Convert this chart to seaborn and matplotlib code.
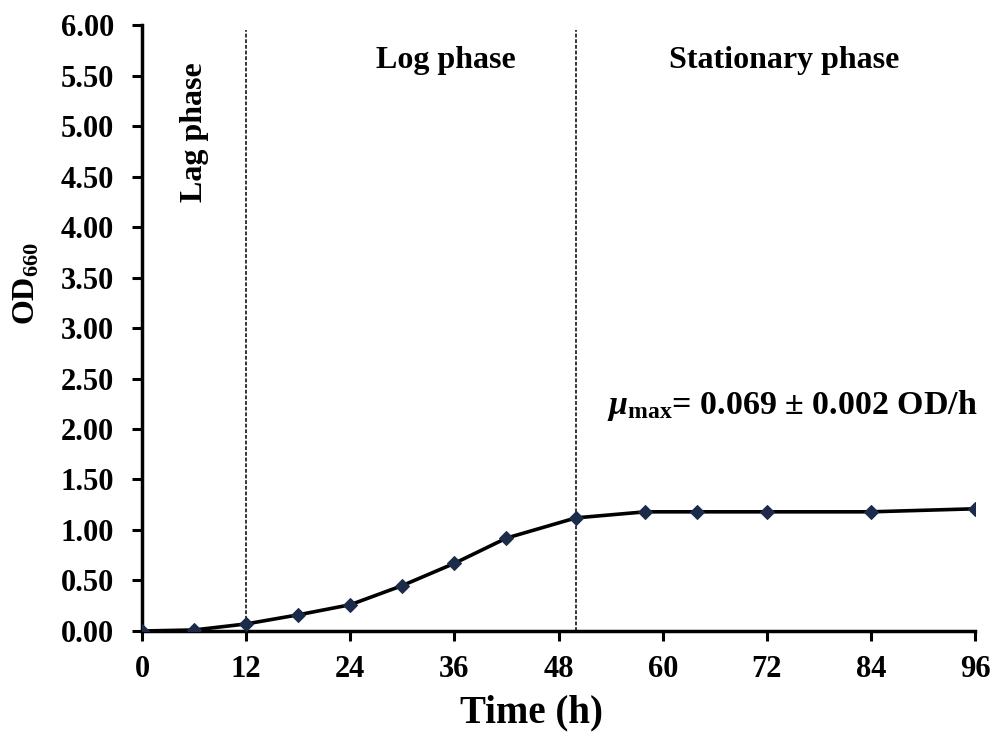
import matplotlib
matplotlib.use("Agg")
import matplotlib.pyplot as plt
import seaborn as sns
import pandas as pd
from matplotlib.ticker import FormatStrFormatter

# ---- data ----
time_h = [0, 6, 12, 18, 24, 30, 36, 42, 50, 58, 64, 72, 84, 96]
od660 = [0.00, 0.01, 0.07, 0.16, 0.26, 0.45, 0.67, 0.92, 1.12, 1.18, 1.18, 1.18, 1.18, 1.21]
phase_bounds = [12, 50]
x_ticks = [0, 12, 24, 36, 48, 60, 72, 84, 96]
y_ticks = [0.0, 0.5, 1.0, 1.5, 2.0, 2.5, 3.0, 3.5, 4.0, 4.5, 5.0, 5.5, 6.0]
phase_labels = ["Lag phase", "Log phase", "Stationary phase"]
mu_text = r"$\mathit{\mu}_{\mathrm{max}}$= 0.069 ± 0.002 OD/h"

sns.set_style("ticks")
plt.rcParams["font.family"] = ["Liberation Serif", "DejaVu Serif"]
plt.rcParams["font.weight"] = "bold"
plt.rcParams["text.color"] = "black"
plt.rcParams["axes.labelcolor"] = "black"
plt.rcParams["mathtext.fontset"] = "custom"
plt.rcParams["mathtext.rm"] = "Liberation Serif:bold"
plt.rcParams["mathtext.bf"] = "Liberation Serif:bold"
plt.rcParams["mathtext.it"] = "Liberation Serif:italic:bold"

df = pd.DataFrame({"Time": time_h, "OD": od660})

fig = plt.figure(figsize=(9.96, 7.42), dpi=100)
ax = fig.add_axes([0.1426, 0.1496, 0.8364, 0.8167])

for b in phase_bounds:
    ax.axvline(b, ymin=0, ymax=0.992, color="black", lw=1.1, ls=(0, (2.5, 1.2)), zorder=1)

sns.lineplot(data=df, x="Time", y="OD", ax=ax, color="black", lw=2.6,
             marker="D", markersize=7, markerfacecolor="#1c2b4a",
             markeredgecolor="#1c2b4a", zorder=3)

ax.set_xlim(0, 96)
ax.set_ylim(0, 6)
ax.set_xticks(x_ticks)
ax.set_yticks(y_ticks)
ax.yaxis.set_major_formatter(FormatStrFormatter("%.2f"))
ax.tick_params(axis="both", direction="out", length=7, width=2.2, colors="black",
               labelcolor="black", labelsize=22)
ax.tick_params(axis="x", pad=10)
ax.tick_params(axis="y", pad=13)
for lab in ax.get_xticklabels() + ax.get_yticklabels():
    lab.set_fontweight("bold")

for s in ["top", "right"]:
    ax.spines[s].set_visible(False)
for s in ["left", "bottom"]:
    ax.spines[s].set_linewidth(2.5)
    ax.spines[s].set_color("black")

ax.set_xlabel("Time (h)", fontsize=28, fontweight="bold")
ax.xaxis.set_label_coords(0.4676, -0.104)
ax.set_ylabel(r"OD$_{660}$", fontsize=23, fontweight="bold")
ax.yaxis.set_label_coords(-0.121, 0.573)

ax.text(6.1, 4.94, phase_labels[0], rotation=90, ha="center", va="center", fontsize=23, fontweight="bold")
ax.text(35.0, 5.57, phase_labels[1], ha="center", va="baseline", fontsize=23, fontweight="bold")
ax.text(74.0, 5.57, phase_labels[2], ha="center", va="baseline", fontsize=23, fontweight="bold")
ax.text(96.3, 2.15, mu_text, ha="right", va="baseline", fontsize=24.5, fontweight="bold")

fig.savefig("out.png", dpi=100)
